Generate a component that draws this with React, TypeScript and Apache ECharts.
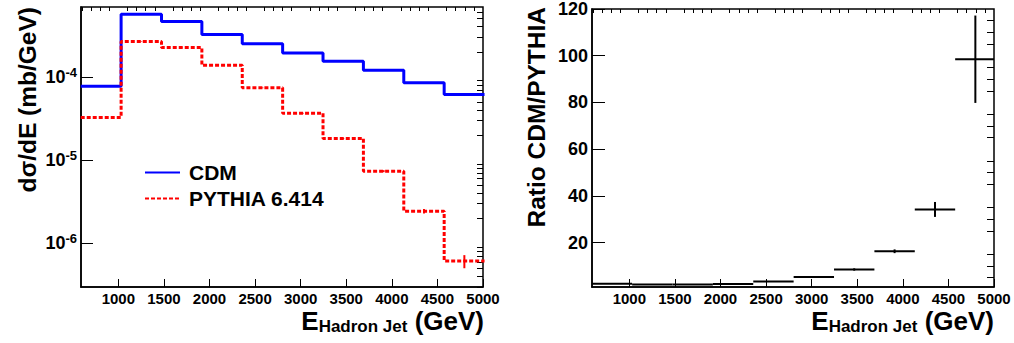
import React, { useEffect, useRef } from "react";
import * as echarts from "echarts";

// ---- data ----
const BIN_EDGES = [587, 1030, 1473, 1916, 2359, 2802, 3245, 3688, 4131, 4574, 5017];
const CDM = [7.73e-5, 5.66e-4, 4.63e-4, 3.23e-4, 2.49e-4, 1.94e-4, 1.54e-4, 1.2e-4, 8.47e-5, 6.15e-5];
const PYTHIA = [3.26e-5, 2.66e-4, 2.25e-4, 1.38e-4, 7.38e-5, 3.66e-5, 1.82e-5, 7.38e-6, 2.44e-6, 6.14e-7];
const PYTHIA_ERR = [3e-7, 2e-6, 1.6e-6, 1.2e-6, 7e-7, 4e-7, 2.5e-7, 2e-7, 1.5e-7, 1.1e-7];
const RATIO = [2.4, 2.1, 2.1, 2.3, 3.4, 5.3, 8.5, 16.3, 34.2, 98.5];
const RATIO_ERR = [0.1, 0.05, 0.05, 0.1, 0.15, 0.3, 0.5, 0.8, 3.2, 18.7];

const X_TICKS = [1000, 1500, 2000, 2500, 3000, 3500, 4000, 4500, 5000];
const LOG_TICKS = [1e-6, 1e-5, 1e-4];
const RATIO_TICKS = [20, 40, 60, 80, 100, 120];

const LEGEND_NAMES = ["CDM", "PYTHIA 6.414"];

const X_MIN = 590;
const X_MAX = 5000;
const LOG_MIN = 3e-7;
const LOG_MAX = 6.9e-4;
const R_MIN = 1;
const R_MAX = 120;

const FONT = "'Liberation Sans', Arial, Helvetica, sans-serif";

function stepData(vals: number[]) {
  const d: number[][] = vals.map((v, i) => [BIN_EDGES[i], v]);
  d.push([BIN_EDGES[BIN_EDGES.length - 1], vals[vals.length - 1]]);
  return d;
}

function minorX() {
  const out: number[] = [];
  for (let v = 600; v < X_MAX; v += 100) if (v % 500 !== 0) out.push(v);
  return out;
}
function minorLog() {
  const out: number[] = [];
  for (let e = -7; e <= -4; e++) {
    for (let m = 2; m <= 9; m++) {
      const v = m * Math.pow(10, e);
      if (v >= LOG_MIN && v <= LOG_MAX) out.push(v);
    }
  }
  return out;
}
function minorR() {
  const out: number[] = [];
  for (let v = 5; v <= R_MAX; v += 5) if (v % 20 !== 0) out.push(v);
  return out;
}

export default function App() {
  const ref = useRef<HTMLDivElement>(null);
  useEffect(() => {
    if (!ref.current) return;
    const chart = echarts.init(ref.current, null, { renderer: "svg" });
    const grids = [
      { left: 81, top: 7, width: 402, height: 280 },
      { left: 592, top: 7, width: 402, height: 280 },
    ].map((g) => ({ ...g, show: true, borderColor: "#000", borderWidth: 1.5, backgroundColor: "transparent" }));

    const axLine = { show: true, lineStyle: { color: "#000", width: 1.5 } };
    const xMajor = (gi: number) => ({
      type: "value",
      gridIndex: gi,
      min: X_MIN,
      max: X_MAX,
      axisLine: axLine,
      splitLine: { show: false },
      axisTick: { show: true, inside: true, length: 8, customValues: X_TICKS, lineStyle: { color: "#000", width: 1 } },
      axisLabel: {
        show: true,
        customValues: X_TICKS,
        formatter: (v: number) => String(v),
        margin: 4,
        color: "#000",
        fontFamily: FONT,
        fontWeight: "bold",
        fontSize: 15,
      },
    });
    const xMinor = (gi: number) => ({
      type: "value",
      gridIndex: gi,
      min: X_MIN,
      max: X_MAX,
      axisLine: { show: false },
      splitLine: { show: false },
      axisTick: { show: true, inside: true, length: 4, customValues: minorX(), lineStyle: { color: "#000", width: 1 } },
      axisLabel: { show: false },
    });

    const option: any = {
      animation: false,
      grid: grids,
      xAxis: [xMajor(0), xMinor(0), xMajor(1), xMinor(1)],
      yAxis: [
        {
          type: "log",
          gridIndex: 0,
          min: LOG_MIN,
          max: LOG_MAX,
          axisLine: axLine,
          splitLine: { show: false },
          axisTick: { show: true, inside: true, length: 12, customValues: LOG_TICKS, lineStyle: { color: "#000", width: 1 } },
          axisLabel: {
            show: true,
            customValues: LOG_TICKS,
            margin: 4,
            formatter: (v: number) => `{b|10}{e|${Math.round(Math.log10(v))}}`,
            rich: {
              b: { fontFamily: FONT, fontWeight: "bold", fontSize: 18, color: "#000", lineHeight: 22 },
              e: { fontFamily: FONT, fontWeight: "bold", fontSize: 13, color: "#000", lineHeight: 12, verticalAlign: "top" },
            },
          },
        },
        {
          type: "log",
          gridIndex: 0,
          min: LOG_MIN,
          max: LOG_MAX,
          axisLine: { show: false },
          splitLine: { show: false },
          axisTick: { show: true, inside: true, length: 6, customValues: minorLog(), lineStyle: { color: "#000", width: 1 } },
          axisLabel: { show: false },
        },
        {
          type: "value",
          gridIndex: 1,
          min: R_MIN,
          max: R_MAX,
          axisLine: axLine,
          splitLine: { show: false },
          axisTick: { show: true, inside: true, length: 13, customValues: RATIO_TICKS, lineStyle: { color: "#000", width: 1 } },
          axisLabel: {
            show: true,
            customValues: RATIO_TICKS,
            margin: 4,
            color: "#000",
            fontFamily: FONT,
            fontWeight: "bold",
            fontSize: 18,
          },
        },
        {
          type: "value",
          gridIndex: 1,
          min: R_MIN,
          max: R_MAX,
          axisLine: { show: false },
          splitLine: { show: false },
          axisTick: { show: true, inside: true, length: 7, customValues: minorR(), lineStyle: { color: "#000", width: 1 } },
          axisLabel: { show: false },
        },
      ],
      legend: {
        orient: "vertical",
        left: 144,
        top: 162,
        padding: 0,
        itemWidth: 35,
        itemHeight: 14,
        itemGap: 5,
        data: LEGEND_NAMES,
        itemStyle: { opacity: 0, borderWidth: 0 },
        textStyle: { fontFamily: FONT, fontWeight: "bold", fontSize: 21, color: "#000", padding: [0, 0, 0, 4], lineHeight: 21 },
      },
      series: [
        {
          name: LEGEND_NAMES[0],
          type: "line",
          xAxisIndex: 0,
          yAxisIndex: 0,
          step: "end",
          data: stepData(CDM),
          symbol: "none",
          lineStyle: { color: "#0000ff", width: 3 },
          itemStyle: { color: "#0000ff" },
          clip: true,
        },
        {
          name: LEGEND_NAMES[1],
          type: "line",
          xAxisIndex: 0,
          yAxisIndex: 0,
          step: "end",
          data: stepData(PYTHIA),
          symbol: "none",
          lineStyle: { color: "#ff0000", width: 3, type: [4, 2] },
          itemStyle: { color: "#ff0000" },
          clip: true,
        },
        {
          type: "custom",
          xAxisIndex: 0,
          yAxisIndex: 0,
          clip: true,
          data: PYTHIA.map((v, i) => [(BIN_EDGES[i] + BIN_EDGES[i + 1]) / 2, v, PYTHIA_ERR[i]]),
          renderItem: (params: any, api: any) => {
            const x = api.value(0), y = api.value(1), e = api.value(2);
            const p1 = api.coord([x, y + e]);
            const p2 = api.coord([x, y - e]);
            return {
              type: "line",
              shape: { x1: p1[0], y1: p1[1], x2: p2[0], y2: p2[1] },
              style: { stroke: "#ff0000", lineWidth: 2 },
            };
          },
        },
        {
          type: "custom",
          xAxisIndex: 2,
          yAxisIndex: 2,
          clip: true,
          data: RATIO.map((v, i) => [BIN_EDGES[i], BIN_EDGES[i + 1], v, RATIO_ERR[i]]),
          renderItem: (params: any, api: any) => {
            const x0 = api.value(0), x1 = api.value(1), y = api.value(2), e = api.value(3);
            const xc = (x0 + x1) / 2;
            const a = api.coord([x0, y]);
            const b = api.coord([x1, y]);
            const t = api.coord([xc, y + e]);
            const u = api.coord([xc, y - e]);
            return {
              type: "group",
              children: [
                { type: "line", shape: { x1: a[0], y1: a[1], x2: b[0], y2: b[1] }, style: { stroke: "#000", lineWidth: 2 } },
                { type: "line", shape: { x1: t[0], y1: t[1], x2: u[0], y2: u[1] }, style: { stroke: "#000", lineWidth: 2 } },
              ],
            };
          },
        },
      ],
      graphic: [
        {
          type: "text",
          x: 27,
          y: 7,
          rotation: Math.PI / 2,
          style: { text: "dσ/dE (mb/GeV)", fontFamily: FONT, fontWeight: "bold", fontSize: 24.5, fill: "#000", align: "right", verticalAlign: "middle" },
        },
        {
          type: "text",
          x: 536,
          y: 7,
          rotation: Math.PI / 2,
          style: { text: "Ratio CDM/PYTHIA", fontFamily: FONT, fontWeight: "bold", fontSize: 24.5, fill: "#000", align: "right", verticalAlign: "middle" },
        },
        ...[484, 994].map((xr) => ({
          type: "text",
          x: xr,
          y: 335,
          style: {
            text: "{e|E}{s|Hadron Jet}{e| (GeV)}",
            align: "right",
            verticalAlign: "bottom",
            rich: {
              e: { fontFamily: FONT, fontWeight: "bold", fontSize: 26, fill: "#000", lineHeight: 28 },
              s: { fontFamily: FONT, fontWeight: "bold", fontSize: 17, fill: "#000", lineHeight: 16, verticalAlign: "bottom" },
            },
          },
        })),
      ],
    };
    chart.setOption(option);
    return () => chart.dispose();
  }, []);
  return (
    <div
      ref={ref}
      style={{ position: "fixed", left: 0, top: 0, width: 1014, height: 343, background: "#fff" }}
    />
  );
}
